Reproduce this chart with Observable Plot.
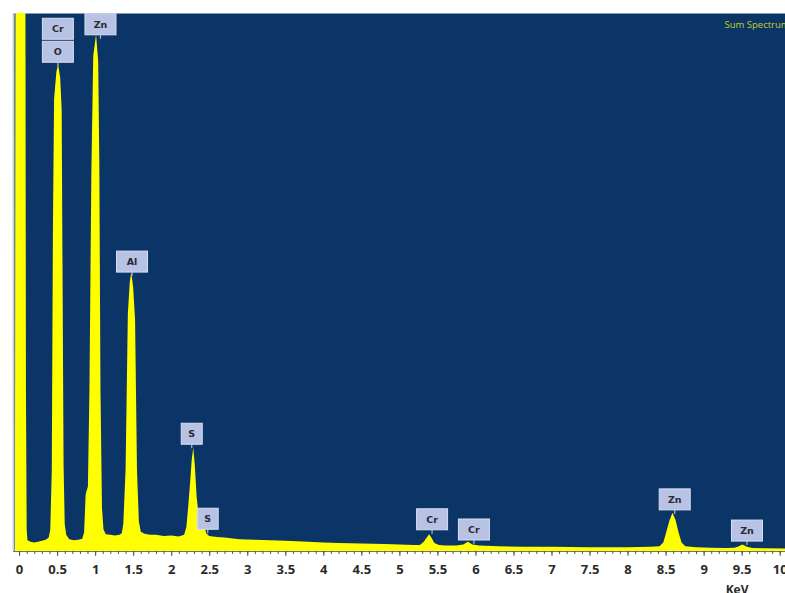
<!DOCTYPE html>
<html>
<head>
<meta charset="utf-8">
<script src="https://cdn.jsdelivr.net/npm/d3@7"></script>
<script src="https://cdn.jsdelivr.net/npm/@observablehq/plot@0.6"></script>
<style>
  html, body { margin: 0; padding: 0; background: #ffffff; }
  #chart { width: 785px; height: 593px; overflow: hidden; }
</style>
</head>
<body>
<div id="chart"></div>
<script>
// ---- Spectrum data (energy in keV, counts in arbitrary units) ----
const energy = [
  -0.08, -0.055, -0.045, 0.08, 0.09, 0.1, 0.11, 0.15, 0.2, 0.25, 0.3, 0.35, 0.39,
  0.41, 0.43, 0.445, 0.46, 0.49, 0.512, 0.54, 0.56, 0.57, 0.585, 0.6, 0.62, 0.66,
  0.72, 0.78, 0.83, 0.855, 0.865, 0.875, 0.89, 0.905, 0.925, 0.95, 0.975, 1.012,
  1.04, 1.055, 1.07, 1.09, 1.11, 1.14, 1.2, 1.26, 1.32, 1.35, 1.37, 1.4, 1.43,
  1.455, 1.475, 1.5, 1.525, 1.55, 1.575, 1.6, 1.65, 1.72, 1.8, 1.9, 2.0, 2.1,
  2.17, 2.2, 2.225, 2.25, 2.27, 2.29, 2.31, 2.335, 2.365, 2.4, 2.425, 2.44, 2.46,
  2.5, 2.6, 2.7, 2.9, 3.1, 3.3, 3.5, 3.8, 4.0, 4.2, 4.5, 4.8, 5.0, 5.2, 5.27,
  5.32, 5.36, 5.39, 5.42, 5.46, 5.52, 5.6, 5.75, 5.84, 5.9, 5.96, 6.05, 6.3,
  6.6, 7.0, 7.5, 8.0, 8.3, 8.42, 8.47, 8.51, 8.55, 8.59, 8.63, 8.67, 8.71, 8.76,
  8.9, 9.1, 9.3, 9.4, 9.45, 9.51, 9.57, 9.64, 9.8, 10.07
];
const counts = [
  0, 0, 140, 140, 30, 4, 2.0, 1.7, 1.6, 1.7, 1.9, 2.1, 2.5,
  4, 15, 60, 84, 89, 90.5, 88, 82, 55, 16, 5, 3, 2.2,
  2.0, 2.1, 2.3, 3.5, 7, 10.5, 11.3, 12, 30, 70, 92, 96,
  91, 72, 30, 8, 4, 3.1, 3.0, 2.9, 3.0, 3.3, 5, 15, 44,
  50, 51.8, 49, 43, 15, 5.5, 3.6, 3.2, 3.0, 3.0, 2.8, 2.9, 2.7,
  3.0, 4.5, 8.5, 13, 17, 19.2, 16, 10, 6, 4.4, 4.0, 4.6, 3.3,
  2.8, 2.6, 2.5, 2.2, 2.1, 2.0, 1.9, 1.7, 1.6, 1.5, 1.4, 1.3, 1.2, 1.1, 1.1,
  1.7, 2.5, 3.1, 2.5, 1.5, 1.1, 1.0, 1.0, 1.2, 1.7, 1.2, 1.0, 0.9,
  0.8, 0.8, 0.7, 0.7, 0.8, 0.9, 1.6, 3.6, 5.6, 7.1, 5.8, 3.5, 1.6, 0.9,
  0.7, 0.6, 0.55, 0.6, 0.8, 1.2, 0.8, 0.55, 0.5, 0.45
];

// ---- Peak labels ----
const labelText   = ["Cr", "O", "Zn", "Al", "S", "S", "Cr", "Cr", "Zn", "Zn"];
const labelEnergy = [0.51, 0.51, 1.07, 1.485, 2.27, 2.48, 5.43, 5.98, 8.62, 9.57];
const labelLevel  = [90.1, 90.1, 95.2, 51.1, 19.1, 3.3, 3.2, 1.3, 6.9, 1.1];

// ---- Axis ----
const xDomain = [-0.08, 10.07];
const yDomain = [0, 100];
const tickValues = [0, 0.5, 1, 1.5, 2, 2.5, 3, 3.5, 4, 4.5, 5, 5.5, 6, 6.5, 7, 7.5, 8, 8.5, 9, 9.5, 10];
const tickLabels = ["0", "0.5", "1", "1.5", "2", "2.5", "3", "3.5", "4", "4.5", "5", "5.5", "6", "6.5", "7", "7.5", "8", "8.5", "9", "9.5", "10"];
const minorTicks = d3.range(0, 101).map(i => i / 10);
const axisTitle = "KeV";
const spectrumTitle = "Sum Spectrum";

const spectrum = energy.map((e, i) => ({e, c: counts[i]}));
const labels = labelText.map((t, i) => ({t, e: labelEnergy[i], v: labelLevel[i]}));

const navy = "#0c3567";
const yellow = "#ffff00";

function labelMark(index, scales, values, dimensions) {
  const sx = typeof scales.x === "function" ? scales.x : (scales.scales ? scales.scales.x : null);
  const sy = typeof scales.y === "function" ? scales.y : (scales.scales ? scales.scales.y : null);
  const g = d3.create("svg:g");
  const bh = 21, stem = 4;
  labels.forEach((d, i) => {
    const x = sx(d.e), y = sy(d.v);
    // stacked labels at the same energy
    let k = 0, maxLen = d.t.length;
    labels.forEach((o, j) => {
      if (o.e === d.e) { maxLen = Math.max(maxLen, o.t.length); if (j > i) k++; }
    });
    const bw = maxLen > 1 ? 31 : 21;
    const bottom = y - stem - k * (bh + 2);
    if (k === 0) {
      g.append("line").attr("x1", x).attr("x2", x).attr("y1", y).attr("y2", y - stem)
        .attr("stroke", "#aab4d6").attr("stroke-width", 1.2);
    }
    g.append("rect").attr("x", x - bw / 2).attr("y", bottom - bh).attr("width", bw).attr("height", bh)
      .attr("fill", "#b7c2e4").attr("stroke", "#d8def2").attr("stroke-width", 1);
    g.append("text").attr("x", x).attr("y", bottom - bh / 2).attr("dy", "0.35em")
      .attr("text-anchor", "middle").attr("font-size", 9.5).attr("font-weight", "bold")
      .attr("font-family", "'DejaVu Sans', sans-serif").attr("fill", "#2a2a33").text(d.t);
  });
  return g.node();
}

const chart = Plot.plot({
  width: 785,
  height: 593,
  marginTop: 13,
  marginLeft: 13,
  marginRight: 0,
  marginBottom: 42,
  style: {background: "#ffffff", fontFamily: "'Open Sans', sans-serif", overflow: "hidden"},
  x: {domain: xDomain, label: null},
  y: {domain: yDomain, axis: null},
  marks: [
    Plot.frame({fill: navy, stroke: null}),
    Plot.areaY(spectrum, {x: "e", y: "c", fill: yellow, curve: "linear", clip: true}),
    Plot.ruleX([xDomain[0]], {stroke: "#c9d1e6", strokeWidth: 2}),
    Plot.ruleY([yDomain[0]], {stroke: "#6d7485", strokeWidth: 1}),
    Plot.axisX({ticks: minorTicks, tickSize: 3, tickFormat: () => "", stroke: "#555", label: null}),
    Plot.axisX({ticks: tickValues, tickSize: 5, tickPadding: 8,
      tickFormat: v => tickLabels[tickValues.indexOf(v)],
      fontSize: 13, fontWeight: "bold", fill: "#2b2b2b", stroke: "#555", label: null}),
    Plot.text([axisTitle], {frameAnchor: "bottom-right", dx: -37, dy: 42, textAnchor: "end",
      fontSize: 12, fontWeight: "bold", fill: "#2b2b2b", lineAnchor: "bottom"}),
    Plot.text([spectrumTitle], {frameAnchor: "top-right", dx: -61, dy: 8, textAnchor: "start",
      fontSize: 9.5, fill: "#c6d024"}),
    labelMark
  ]
});

document.getElementById("chart").appendChild(chart);
</script>
</body>
</html>
